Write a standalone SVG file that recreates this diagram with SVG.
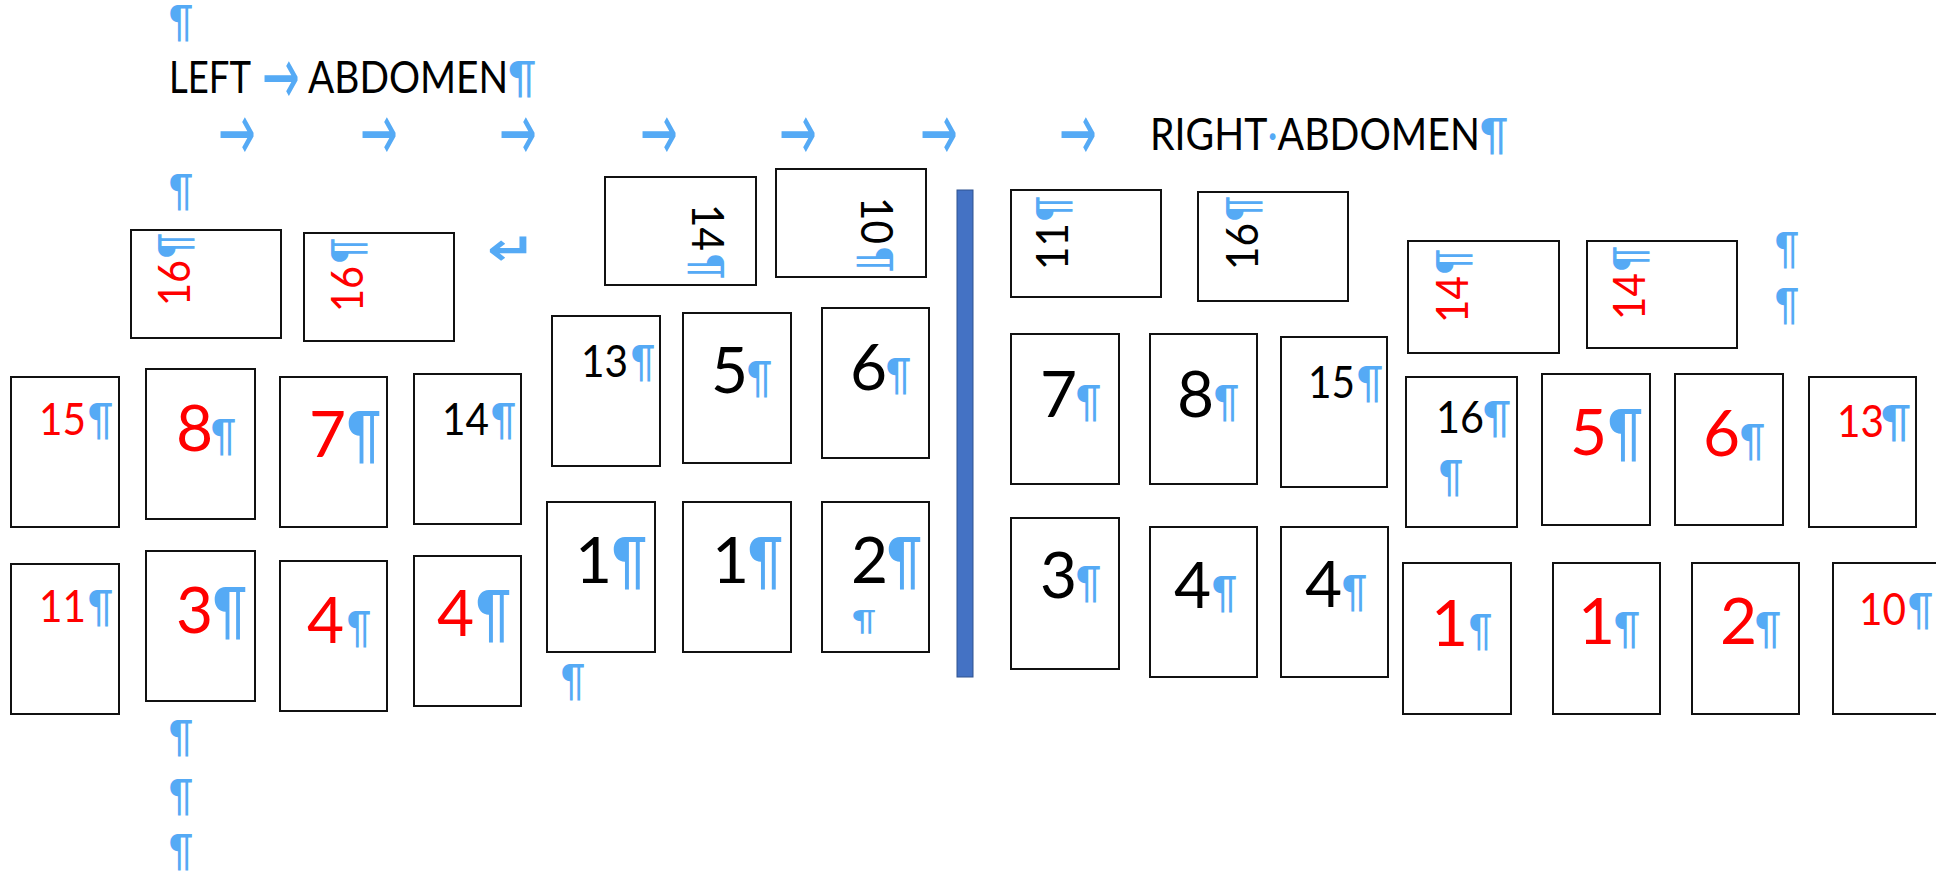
<svg xmlns="http://www.w3.org/2000/svg" width="1936" height="872" viewBox="0 0 1936 872">
<style>
.box{fill:#fff;stroke:#111;stroke-width:2}
text{font-family:Lato,'Liberation Sans',sans-serif}
.red{fill:#ff0000}
.blk{fill:#000}
.big{font-size:64px}
.med{font-size:44px}
.p{fill:#55aaf5}
.ps{font-size:45px}
.pb{font-size:64px}
.pt{font-size:28px}
.ar{font-family:'DejaVu Sans',sans-serif;fill:#55aaf5;font-size:45px}
.hd{font-size:44px;fill:#000}
</style>
<rect width="1936" height="872" fill="#fff"/>

<g id="headings">
<text class="p ps" x="169" y="37" textLength="24" lengthAdjust="spacingAndGlyphs">¶</text>
<text class="hd" x="169" y="93" textLength="82" lengthAdjust="spacingAndGlyphs">LEFT</text>
<text class="ar" transform="translate(262,75) scale(1,1.8)" y="16">→</text>
<text class="hd" x="308" y="93" textLength="228" lengthAdjust="spacingAndGlyphs">ABDOMEN<tspan class="p" font-size="45">¶</tspan></text>
<text class="ar" transform="translate(218,131) scale(1,1.8)" y="16">→</text>
<text class="ar" transform="translate(360,131) scale(1,1.8)" y="16">→</text>
<text class="ar" transform="translate(499,131) scale(1,1.8)" y="16">→</text>
<text class="ar" transform="translate(640,131) scale(1,1.8)" y="16">→</text>
<text class="ar" transform="translate(779,131) scale(1,1.8)" y="16">→</text>
<text class="ar" transform="translate(920,131) scale(1,1.8)" y="16">→</text>
<text class="ar" transform="translate(1059,131) scale(1,1.8)" y="16">→</text>
<text class="hd" x="1150" y="150" textLength="358" lengthAdjust="spacingAndGlyphs">RIGHT<tspan class="p">·</tspan>ABDOMEN<tspan class="p" font-size="45">¶</tspan></text>
<text class="p ps" x="169" y="206" textLength="24" lengthAdjust="spacingAndGlyphs">¶</text>
<text class="ar" transform="translate(487,265) scale(1.3,1)" font-size="63" font-weight="bold">↵</text>
<text class="p ps" x="169" y="752" textLength="24" lengthAdjust="spacingAndGlyphs">¶</text>
<text class="p ps" x="169" y="811" textLength="24" lengthAdjust="spacingAndGlyphs">¶</text>
<text class="p ps" x="169" y="866" textLength="24" lengthAdjust="spacingAndGlyphs">¶</text>
<text class="p ps" x="561" y="696" textLength="24" lengthAdjust="spacingAndGlyphs">¶</text>
<text class="p ps" x="1775" y="264" textLength="24" lengthAdjust="spacingAndGlyphs">¶</text>
<text class="p ps" x="1775" y="320" textLength="24" lengthAdjust="spacingAndGlyphs">¶</text>
</g>

<g id="divider"><rect x="957" y="190" width="16" height="487" fill="#4472c4" stroke="#2f528f" stroke-width="1"/></g>

<g id="L16a"><rect class="box" x="131" y="230" width="150" height="108"/><g transform="translate(190,306) rotate(-90)"><text class="med red" x="0" y="0" textLength="46" lengthAdjust="spacingAndGlyphs">16</text><text class="p ps" x="48" y="0" textLength="25" lengthAdjust="spacingAndGlyphs">¶</text></g></g>
<g id="L16b"><rect class="box" x="304" y="233" width="150" height="108"/><g transform="translate(363,312) rotate(-90)"><text class="med red" x="0" y="0" textLength="46" lengthAdjust="spacingAndGlyphs">16</text><text class="p ps" x="49" y="0" textLength="25" lengthAdjust="spacingAndGlyphs">¶</text></g></g>
<g id="L15"><rect class="box" x="11" y="377" width="108" height="150"/><text class="med red" x="39" y="435" textLength="47" lengthAdjust="spacingAndGlyphs">15</text><text class="p ps" x="88" y="435" textLength="25" lengthAdjust="spacingAndGlyphs">¶</text></g>
<g id="L8"><rect class="box" x="146" y="369" width="109" height="150"/><text class="big red" x="176" y="451">8</text><text class="p ps" x="211" y="451" textLength="25" lengthAdjust="spacingAndGlyphs">¶</text></g>
<g id="L7"><rect class="box" x="280" y="377" width="107" height="150"/><text class="big red" x="309" y="457">7</text><text class="p pb" x="347" y="457" textLength="34" lengthAdjust="spacingAndGlyphs">¶</text></g>
<g id="L14"><rect class="box" x="414" y="374" width="107" height="150"/><text class="med blk" x="442" y="435" textLength="47" lengthAdjust="spacingAndGlyphs">14</text><text class="p ps" x="491" y="435" textLength="25" lengthAdjust="spacingAndGlyphs">¶</text></g>
<g id="L11"><rect class="box" x="11" y="564" width="108" height="150"/><text class="med red" x="39" y="622" textLength="47" lengthAdjust="spacingAndGlyphs">11</text><text class="p ps" x="88" y="622" textLength="25" lengthAdjust="spacingAndGlyphs">¶</text></g>
<g id="L3"><rect class="box" x="146" y="551" width="109" height="150"/><text class="big red" x="176" y="633">3</text><text class="p pb" x="213" y="633" textLength="34" lengthAdjust="spacingAndGlyphs">¶</text></g>
<g id="L4a"><rect class="box" x="280" y="561" width="107" height="150"/><text class="big red" x="307" y="643">4</text><text class="p ps" x="347" y="643" textLength="24" lengthAdjust="spacingAndGlyphs">¶</text></g>
<g id="L4b"><rect class="box" x="414" y="556" width="107" height="150"/><text class="big red" x="437" y="636">4</text><text class="p pb" x="476" y="636" textLength="35" lengthAdjust="spacingAndGlyphs">¶</text></g>

<g id="M14"><rect class="box" x="605" y="177" width="151" height="108"/><g transform="translate(692,204) rotate(90)"><text class="med blk" x="0" y="0" textLength="47" lengthAdjust="spacingAndGlyphs">14</text><text class="p ps" x="50" y="0" textLength="25" lengthAdjust="spacingAndGlyphs">¶</text></g></g>
<g id="M10"><rect class="box" x="776" y="169" width="150" height="108"/><g transform="translate(861,197) rotate(90)"><text class="med blk" x="0" y="0" textLength="47" lengthAdjust="spacingAndGlyphs">10</text><text class="p ps" x="50" y="0" textLength="25" lengthAdjust="spacingAndGlyphs">¶</text></g></g>
<g id="M13"><rect class="box" x="552" y="316" width="108" height="150"/><text class="med blk" x="581" y="377" textLength="47" lengthAdjust="spacingAndGlyphs">13</text><text class="p ps" x="631" y="377" textLength="24" lengthAdjust="spacingAndGlyphs">¶</text></g>
<g id="M5"><rect class="box" x="683" y="313" width="108" height="150"/><text class="big blk" x="711" y="393">5</text><text class="p ps" x="747" y="393" textLength="25" lengthAdjust="spacingAndGlyphs">¶</text></g>
<g id="M6"><rect class="box" x="822" y="308" width="107" height="150"/><text class="big blk" x="850" y="390">6</text><text class="p ps" x="886" y="390" textLength="25" lengthAdjust="spacingAndGlyphs">¶</text></g>
<g id="M1a"><rect class="box" x="547" y="502" width="108" height="150"/><text class="big blk" x="575" y="583">1</text><text class="p pb" x="612" y="583" textLength="35" lengthAdjust="spacingAndGlyphs">¶</text></g>
<g id="M1b"><rect class="box" x="683" y="502" width="108" height="150"/><text class="big blk" x="712" y="583">1</text><text class="p pb" x="748" y="583" textLength="35" lengthAdjust="spacingAndGlyphs">¶</text></g>
<g id="M2"><rect class="box" x="822" y="502" width="107" height="150"/><text class="big blk" x="851" y="583">2</text><text class="p pb" x="887" y="583" textLength="35" lengthAdjust="spacingAndGlyphs">¶</text><text class="p pt" x="852" y="631" textLength="24" lengthAdjust="spacingAndGlyphs">¶</text></g>

<g id="R11"><rect class="box" x="1011" y="190" width="150" height="107"/><g transform="translate(1068,270) rotate(-90)"><text class="med blk" x="0" y="0" textLength="47" lengthAdjust="spacingAndGlyphs">11</text><text class="p ps" x="49" y="0" textLength="25" lengthAdjust="spacingAndGlyphs">¶</text></g></g>
<g id="R16"><rect class="box" x="1198" y="192" width="150" height="109"/><g transform="translate(1258,270) rotate(-90)"><text class="med blk" x="0" y="0" textLength="47" lengthAdjust="spacingAndGlyphs">16</text><text class="p ps" x="49" y="0" textLength="25" lengthAdjust="spacingAndGlyphs">¶</text></g></g>
<g id="R7"><rect class="box" x="1011" y="334" width="108" height="150"/><text class="big blk" x="1040" y="417">7</text><text class="p ps" x="1076" y="417" textLength="25" lengthAdjust="spacingAndGlyphs">¶</text></g>
<g id="R8"><rect class="box" x="1150" y="334" width="107" height="150"/><text class="big blk" x="1177" y="417">8</text><text class="p ps" x="1214" y="417" textLength="25" lengthAdjust="spacingAndGlyphs">¶</text></g>
<g id="R15"><rect class="box" x="1281" y="337" width="106" height="150"/><text class="med blk" x="1308" y="398" textLength="47" lengthAdjust="spacingAndGlyphs">15</text><text class="p ps" x="1357" y="398" textLength="26" lengthAdjust="spacingAndGlyphs">¶</text></g>
<g id="R3"><rect class="box" x="1011" y="518" width="108" height="151"/><text class="big blk" x="1040" y="598">3</text><text class="p ps" x="1076" y="598" textLength="25" lengthAdjust="spacingAndGlyphs">¶</text></g>
<g id="R4a"><rect class="box" x="1150" y="527" width="107" height="150"/><text class="big blk" x="1174" y="608">4</text><text class="p ps" x="1212" y="608" textLength="25" lengthAdjust="spacingAndGlyphs">¶</text></g>
<g id="R4b"><rect class="box" x="1281" y="527" width="107" height="150"/><text class="big blk" x="1305" y="607">4</text><text class="p ps" x="1342" y="607" textLength="25" lengthAdjust="spacingAndGlyphs">¶</text></g>

<g id="F14a"><rect class="box" x="1408" y="241" width="151" height="112"/><g transform="translate(1468,323) rotate(-90)"><text class="med red" x="0" y="0" textLength="47" lengthAdjust="spacingAndGlyphs">14</text><text class="p ps" x="49" y="0" textLength="25" lengthAdjust="spacingAndGlyphs">¶</text></g></g>
<g id="F14b"><rect class="box" x="1587" y="241" width="150" height="107"/><g transform="translate(1645,320) rotate(-90)"><text class="med red" x="0" y="0" textLength="47" lengthAdjust="spacingAndGlyphs">14</text><text class="p ps" x="49" y="0" textLength="25" lengthAdjust="spacingAndGlyphs">¶</text></g></g>
<g id="F16"><rect class="box" x="1406" y="377" width="111" height="150"/><text class="med blk" x="1436" y="433" textLength="48" lengthAdjust="spacingAndGlyphs">16</text><text class="p ps" x="1483" y="433" textLength="28" lengthAdjust="spacingAndGlyphs">¶</text><text class="p ps" x="1439" y="492" textLength="24" lengthAdjust="spacingAndGlyphs">¶</text></g>
<g id="F5"><rect class="box" x="1542" y="374" width="108" height="151"/><text class="big red" x="1570" y="455">5</text><text class="p pb" x="1608" y="455" textLength="35" lengthAdjust="spacingAndGlyphs">¶</text></g>
<g id="F6"><rect class="box" x="1675" y="374" width="108" height="151"/><text class="big red" x="1703" y="456">6</text><text class="p ps" x="1740" y="456" textLength="25" lengthAdjust="spacingAndGlyphs">¶</text></g>
<g id="F13"><rect class="box" x="1809" y="377" width="107" height="150"/><text class="med red" x="1837" y="437" textLength="47" lengthAdjust="spacingAndGlyphs">13</text><text class="p ps" x="1881" y="437" textLength="30" lengthAdjust="spacingAndGlyphs">¶</text></g>
<g id="F1a"><rect class="box" x="1403" y="563" width="108" height="151"/><text class="big red" x="1431" y="646">1</text><text class="p ps" x="1469" y="646" textLength="23" lengthAdjust="spacingAndGlyphs">¶</text></g>
<g id="F1b"><rect class="box" x="1553" y="563" width="107" height="151"/><text class="big red" x="1578" y="644">1</text><text class="p ps" x="1614" y="644" textLength="26" lengthAdjust="spacingAndGlyphs">¶</text></g>
<g id="F2"><rect class="box" x="1692" y="563" width="107" height="151"/><text class="big red" x="1720" y="644">2</text><text class="p ps" x="1755" y="644" textLength="26" lengthAdjust="spacingAndGlyphs">¶</text></g>
<g id="F10"><rect class="box" x="1833" y="563" width="112" height="151"/><text class="med red" x="1859" y="625" textLength="47" lengthAdjust="spacingAndGlyphs">10</text><text class="p ps" x="1908" y="625" textLength="25" lengthAdjust="spacingAndGlyphs">¶</text></g>
</svg>
